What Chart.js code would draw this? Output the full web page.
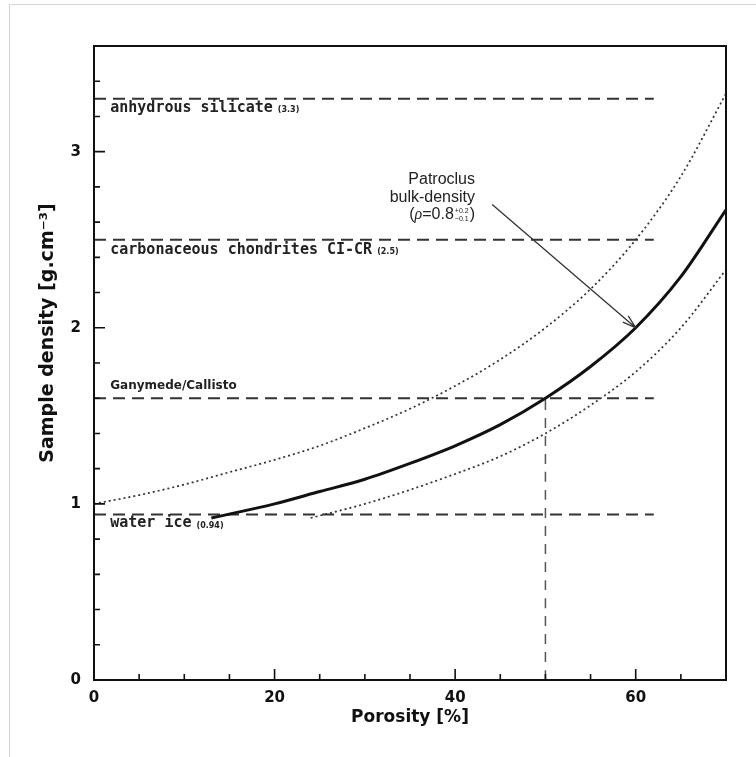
<!DOCTYPE html>
<html>
<head>
<meta charset="utf-8">
<script src="https://cdn.jsdelivr.net/npm/chart.js@4.4.1/dist/chart.umd.min.js"></script>
<style>
body { margin: 0; background: #fff; }
#wrap { position: relative; width: 756px; height: 757px; }
#frame { position: absolute; left: 9px; top: 4px; right: 0; bottom: 0; border-left: 1px solid #d4d4d4; border-top: 1px solid #d4d4d4; }
#chart { position: absolute; left: 0; top: 0; }
</style>
</head>
<body>
<div id="wrap">
  <div id="frame"></div>
  <canvas id="chart"></canvas>
</div>
<script>
// porosity (%) vs grain density curves
const upperPorosity = [0, 5, 10, 15, 20, 25, 30, 35, 40, 45, 50, 55, 60, 65, 70];
const upperDensity  = [1.00, 1.05, 1.11, 1.18, 1.25, 1.33, 1.43, 1.54, 1.67, 1.82, 2.00, 2.22, 2.50, 2.86, 3.33];

const mainPorosity = [13, 20, 25, 30, 35, 40, 45, 50, 55, 60, 65, 70];
const mainDensity  = [0.92, 1.00, 1.07, 1.14, 1.23, 1.33, 1.45, 1.60, 1.78, 2.00, 2.29, 2.67];

const lowerPorosity = [24, 30, 35, 40, 45, 50, 55, 60, 65, 70];
const lowerDensity  = [0.92, 1.00, 1.08, 1.17, 1.27, 1.40, 1.56, 1.75, 2.00, 2.33];

// reference materials (horizontal dashed lines)
const refNames  = ['anhydrous silicate', 'carbonaceous chondrites CI-CR', 'Ganymede/Callisto', 'water ice'];
const refTags   = ['(3.3)', '(2.5)', '', '(0.94)'];
const refLevels = [3.3, 2.5, 1.6, 0.94];
const refEnd = 62;

const patroclusPorosity = 50;
const patroclusDensity = 1.6;

const xTickLabels = [0, 20, 40, 60];
const xMinorTicks = [5, 10, 15, 20, 25, 30, 35, 40, 45, 50, 55, 60, 65];
const yTickLabels = [0, 1, 2, 3];
const yMinorTicks = [0.2, 0.4, 0.6, 0.8, 1, 1.2, 1.4, 1.6, 1.8, 2, 2.2, 2.4, 2.6, 2.8, 3, 3.2, 3.4];

function pts(xs, ys) {
    return xs.map((v, i) => ({ x: v, y: ys[i] }));
}

const datasets = [
    { data: pts(upperPorosity, upperDensity), borderColor: '#333', borderWidth: 1.7, borderDash: [2, 3] },
    { data: pts(mainPorosity, mainDensity), borderColor: '#111', borderWidth: 3 },
    { data: pts(lowerPorosity, lowerDensity), borderColor: '#333', borderWidth: 1.7, borderDash: [2, 3] }
];
refLevels.forEach(lvl => {
    datasets.push({ data: [{ x: 0, y: lvl }, { x: refEnd, y: lvl }], borderColor: '#333', borderWidth: 2, borderDash: [12, 7] });
});
datasets.push({
    data: [{ x: patroclusPorosity, y: 0 }, { x: patroclusPorosity, y: patroclusDensity }],
    borderColor: '#555', borderWidth: 1.5, borderDash: [10, 8]
});
datasets.forEach(d => {
    d.showLine = true;
    d.pointRadius = 0;
    d.fill = false;
    d.cubicInterpolationMode = 'monotone';
});

// frame + inward ticks
const framePlugin = {
    id: 'framePlugin',
    afterDraw(chart) {
        const { ctx, chartArea: a, scales: { x, y } } = chart;
        ctx.save();
        ctx.strokeStyle = '#111';
        ctx.lineWidth = 2;
        ctx.strokeRect(a.left, a.top, a.right - a.left, a.bottom - a.top);
        ctx.lineWidth = 1.6;
        ctx.beginPath();
        xMinorTicks.forEach(v => {
            const px = x.getPixelForValue(v);
            const len = xTickLabels.includes(v) ? 11 : 6;
            ctx.moveTo(px, a.bottom);
            ctx.lineTo(px, a.bottom - len);
        });
        yMinorTicks.forEach(v => {
            const py = y.getPixelForValue(v);
            const len = yTickLabels.includes(v) ? 11 : 6;
            ctx.moveTo(a.left, py);
            ctx.lineTo(a.left + len, py);
        });
        ctx.stroke();

        // axis titles
        ctx.fillStyle = '#111';
        ctx.font = 'bold 17px "DejaVu Sans"';
        ctx.textAlign = 'center';
        ctx.textBaseline = 'middle';
        ctx.fillText('Porosity [%]', (a.left + a.right) / 2, 718);
        ctx.font = 'bold 19px "DejaVu Sans"';
        ctx.translate(48, 333);
        ctx.rotate(-Math.PI / 2);
        ctx.fillText('Sample density [g.cm\u207B\u00B3]', 0, 0);
        ctx.restore();
    }
};

// labels and the Patroclus arrow
const labelPlugin = {
    id: 'labelPlugin',
    afterDatasetsDraw(chart) {
        const { ctx, scales: { x, y } } = chart;
        const offsets = [9, 10, -12, 9];
        ctx.save();
        ctx.fillStyle = '#222';
        ctx.textBaseline = 'middle';
        ctx.textAlign = 'left';
        refNames.forEach((name, i) => {
            const px = x.getPixelForValue(1.8);
            const py = y.getPixelForValue(refLevels[i]) + offsets[i];
            if (i === 2) {
                ctx.font = 'bold 12px "DejaVu Sans"';
            } else {
                ctx.font = 'bold 15px "DejaVu Sans Mono"';
            }
            ctx.fillText(name, px, py);
            if (refTags[i]) {
                const w = ctx.measureText(name).width;
                ctx.font = 'bold 8px "DejaVu Sans"';
                ctx.fillText(refTags[i], px + w + 5, py + 2);
            }
        });

        // Patroclus text
        const tx = x.getPixelForValue(42.2);
        ctx.fillStyle = '#222';
        ctx.textAlign = 'right';
        ctx.font = '16px "Liberation Sans"';
        ctx.fillText('Patroclus', tx, y.getPixelForValue(2.84));
        ctx.fillText('bulk-density', tx, y.getPixelForValue(2.74));
        const ly = y.getPixelForValue(2.64);
        ctx.fillText(')', tx, ly);
        let cx = tx - ctx.measureText(')').width - 1;
        ctx.font = '7px "Liberation Sans"';
        ctx.fillText('+0.2', cx, ly - 4);
        ctx.fillText('\u22120.1', cx, ly + 4);
        cx -= ctx.measureText('+0.2').width + 1;
        ctx.font = '16px "Liberation Sans"';
        ctx.fillText('=0.8', cx, ly);
        cx -= ctx.measureText('=0.8').width;
        ctx.font = 'italic 16px "Liberation Serif"';
        ctx.fillText('\u03C1', cx, ly);
        cx -= ctx.measureText('\u03C1').width;
        ctx.font = '16px "Liberation Sans"';
        ctx.fillText('(', cx, ly);

        // arrow
        const x0 = x.getPixelForValue(44.1), y0 = y.getPixelForValue(2.70);
        const x1 = x.getPixelForValue(60), y1 = y.getPixelForValue(2.0);
        const ang = Math.atan2(y1 - y0, x1 - x0);
        ctx.strokeStyle = '#333';
        ctx.lineWidth = 1.3;
        ctx.beginPath();
        ctx.moveTo(x0, y0);
        ctx.lineTo(x1, y1);
        ctx.moveTo(x1 - 14 * Math.cos(ang - 0.3), y1 - 14 * Math.sin(ang - 0.3));
        ctx.lineTo(x1, y1);
        ctx.lineTo(x1 - 14 * Math.cos(ang + 0.3), y1 - 14 * Math.sin(ang + 0.3));
        ctx.stroke();
        ctx.restore();
    }
};

new Chart(document.getElementById('chart'), {
    type: 'scatter',
    data: { datasets: datasets },
    options: {
        responsive: true,
        maintainAspectRatio: false,
        animation: false,
        layout: { padding: { top: 46, right: 30, left: 0, bottom: 0 } },
        plugins: {
            legend: { display: false },
            tooltip: { enabled: false }
        },
        scales: {
            x: {
                type: 'linear',
                min: 0,
                max: 70,
                afterBuildTicks: s => { s.ticks = xTickLabels.map(v => ({ value: v })); },
                afterFit: s => { s.height = 77; },
                grid: { display: false, drawTicks: false },
                border: { display: false },
                ticks: { padding: 9, maxRotation: 0, color: '#111', font: { family: 'DejaVu Sans', weight: 'bold', size: 15 } }
            },
            y: {
                type: 'linear',
                min: 0,
                max: 3.6,
                afterBuildTicks: s => { s.ticks = yTickLabels.map(v => ({ value: v })); },
                afterFit: s => { s.width = 94; },
                grid: { display: false, drawTicks: false },
                border: { display: false },
                ticks: { padding: 13, color: '#111', font: { family: 'DejaVu Sans', weight: 'bold', size: 15 } }
            }
        }
    },
    plugins: [framePlugin, labelPlugin]
});
</script>
</body>
</html>
